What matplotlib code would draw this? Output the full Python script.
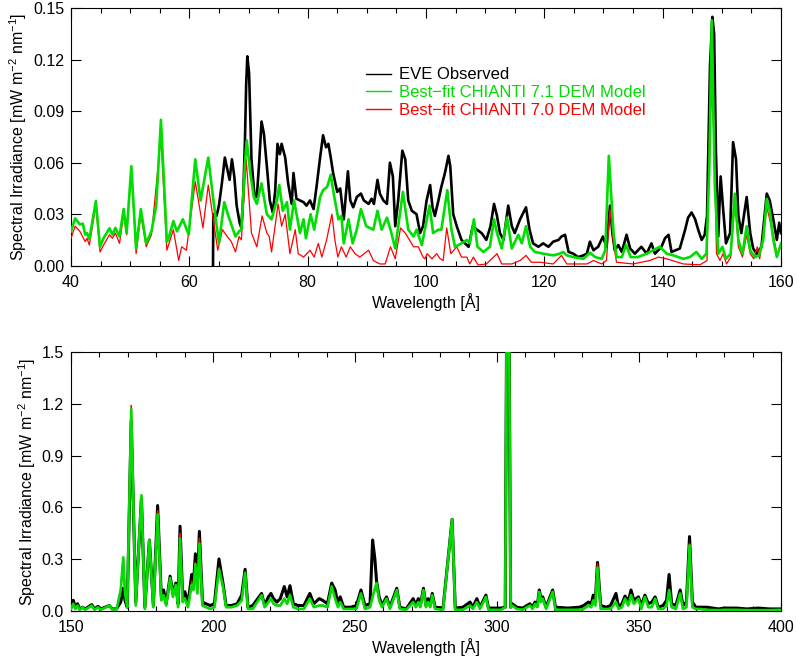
"""EVE observed vs. best-fit CHIANTI DEM models, 40-160 A and 150-400 A."""
import matplotlib
matplotlib.use("Agg")
import matplotlib.pyplot as plt
from matplotlib.lines import Line2D
from matplotlib.ticker import MultipleLocator, FormatStrFormatter

# ---- top panel (40-160 A): vertices ----
eve_top_wl = [64.0, 64.05, 64.6, 65.0, 65.5, 66.0, 66.5, 66.8, 67.2, 67.6, 68.0, 68.5, 68.8, 69.1, 69.4,
              69.6, 69.8, 70.1, 70.5, 71.0, 71.4, 71.8, 72.2, 72.6, 73.1, 73.6, 74.1, 74.5, 74.9, 75.3,
              75.6, 76.2, 76.7, 77.3, 77.6, 78.1, 78.7, 79.3, 79.8, 80.4, 81.0, 81.5, 82.1, 82.6, 83.1,
              83.5, 83.9, 84.3, 85.0, 85.5, 86.1, 86.8, 87.2, 87.7, 88.3, 89.0, 89.5, 90.3, 90.8, 91.2,
              91.8, 92.2, 92.8, 93.4, 93.9, 94.4, 94.8, 95.3, 96.0, 96.5, 97.0, 97.6, 98.4, 99.0, 99.5,
              100.1, 100.7, 101.1, 101.5, 102.1, 102.6, 103.2, 103.8, 104.1, 104.6, 105.2, 106.0, 107.2,
              107.9, 108.6, 109.4, 110.2, 110.9, 111.5, 112.0, 112.5, 113.1, 113.9, 114.5, 115.0, 115.9,
              116.9, 117.5, 118.1, 119.0, 119.8, 120.7, 121.5, 122.4, 122.9, 123.5, 124.1, 124.9, 125.7,
              126.6, 127.2, 127.7, 128.3, 129.1, 129.9, 130.5, 131.1, 131.5, 131.9, 132.5, 133.1, 133.9,
              134.5, 135.3, 136.4, 137.3, 138.1, 138.7, 139.8, 140.4, 141.0, 141.5, 142.9, 143.8, 144.3,
              144.9, 145.5, 146.0, 146.6, 147.1, 147.5, 148.0, 148.4, 148.7, 149.0, 149.4, 149.8, 150.2,
              150.7, 151.4, 151.9, 152.4, 152.8, 153.3, 154.2, 154.8, 155.3, 155.9, 156.7, 157.6, 158.1,
              158.7, 159.3, 159.7, 160.0]
eve_top = [0.0, 0.030, 0.029, 0.035, 0.048, 0.063, 0.055, 0.050, 0.062, 0.052, 0.035, 0.025, 0.022, 0.040, 0.073,
           0.105, 0.122, 0.112, 0.062, 0.041, 0.040, 0.060, 0.084, 0.077, 0.058, 0.038, 0.031, 0.043, 0.071, 0.065,
           0.071, 0.063, 0.048, 0.036, 0.054, 0.039, 0.038, 0.037, 0.035, 0.038, 0.033, 0.046, 0.063, 0.076, 0.069,
           0.071, 0.063, 0.054, 0.043, 0.045, 0.027, 0.055, 0.038, 0.034, 0.040, 0.042, 0.038, 0.036, 0.039, 0.036,
           0.050, 0.042, 0.038, 0.036, 0.060, 0.052, 0.023, 0.038, 0.067, 0.062, 0.038, 0.032, 0.030, 0.019, 0.023,
           0.038, 0.047, 0.034, 0.029, 0.038, 0.046, 0.054, 0.064, 0.058, 0.030, 0.023, 0.015, 0.011,
           0.023, 0.021, 0.019, 0.015, 0.023, 0.036, 0.029, 0.019, 0.015, 0.035, 0.023, 0.019, 0.027,
           0.034, 0.021, 0.013, 0.011, 0.013, 0.011, 0.014, 0.015, 0.017, 0.018, 0.008, 0.007, 0.005,
           0.006, 0.007, 0.014, 0.009, 0.011, 0.017, 0.011, 0.035, 0.019, 0.009, 0.012, 0.008, 0.018,
           0.010, 0.007, 0.011, 0.007, 0.013, 0.007, 0.011, 0.016, 0.018, 0.008, 0.010, 0.021, 0.028,
           0.031, 0.027, 0.021, 0.015, 0.018, 0.029, 0.116, 0.145, 0.135, 0.067, 0.017, 0.052, 0.034,
           0.013, 0.019, 0.072, 0.062, 0.029, 0.019, 0.040, 0.019, 0.010, 0.007, 0.011, 0.042, 0.038,
           0.027, 0.015, 0.025, 0.019]

v71_top_wl = [40.0, 40.7, 41.5, 42.0, 42.4, 42.7, 43.1, 44.2, 44.9, 45.5, 46.5, 47.0, 47.5, 48.2, 48.9,
              49.4, 50.2, 51.0, 51.8, 52.7, 53.6, 54.4, 55.2, 56.2, 56.5, 57.3, 57.9, 58.9, 59.9, 61.0,
              61.9, 63.2, 64.0, 65.0, 65.9, 66.5, 67.0, 67.8, 68.4, 68.8, 69.4, 69.7, 70.3, 70.9, 71.4,
              72.2, 73.1, 73.9, 74.8, 75.2, 75.8, 76.5, 77.0, 77.7, 78.7, 79.3, 79.7, 80.5, 81.1, 82.1,
              82.6, 83.3, 83.9, 84.4, 85.2, 85.7, 86.1, 86.9, 87.6, 88.3, 89.0, 89.9, 91.1, 91.8, 92.5,
              93.4, 94.0, 94.8, 96.1, 97.0, 97.9, 98.4, 99.3, 100.6, 101.2, 102.1, 102.6, 103.6, 104.3,
              104.9, 106.0, 106.9, 107.4, 108.1, 108.7, 109.7, 110.8, 111.5, 112.0, 112.8, 113.7, 114.5,
              115.6, 116.2, 116.9, 117.6, 118.4, 119.8, 121.5, 122.6, 123.2, 123.8, 124.9, 126.6, 127.7,
              128.6, 129.7, 130.3, 130.9, 131.7, 132.2, 133.1, 133.8, 134.6, 135.8, 137.3, 138.4, 139.5,
              140.7, 141.8, 143.5, 144.6, 145.7, 146.6, 147.4, 147.9, 148.3, 148.8, 149.4, 150.1, 150.7,
              151.5, 152.2, 152.8, 153.5, 154.2, 154.8, 155.6, 156.3, 157.0, 157.6, 158.1, 158.7, 159.3,
              160.0]
v71_top = [0.020, 0.0276, 0.024, 0.0245, 0.018, 0.019, 0.0155, 0.0377, 0.011, 0.016, 0.0218, 0.018, 0.022, 0.017, 0.033,
           0.019, 0.058, 0.010, 0.033, 0.013, 0.020, 0.035, 0.085, 0.014, 0.016, 0.026, 0.020, 0.027, 0.018, 0.062,
           0.038, 0.063, 0.040, 0.013, 0.037, 0.030, 0.025, 0.017, 0.020, 0.021, 0.060, 0.073, 0.054, 0.040, 0.036,
           0.048, 0.030, 0.027, 0.038, 0.047, 0.032, 0.037, 0.021, 0.038, 0.019, 0.027, 0.016, 0.030, 0.021, 0.040,
           0.044, 0.046, 0.053, 0.042, 0.027, 0.029, 0.013, 0.027, 0.013, 0.021, 0.033, 0.023, 0.021, 0.032, 0.021,
           0.028, 0.021, 0.010, 0.043, 0.021, 0.017, 0.021, 0.012, 0.035, 0.019, 0.021, 0.021, 0.044, 0.021,
           0.011, 0.013, 0.015, 0.013, 0.027, 0.011, 0.008, 0.011, 0.027, 0.019, 0.010, 0.028, 0.010,
           0.018, 0.013, 0.023, 0.011, 0.008, 0.007, 0.006, 0.007, 0.008, 0.006, 0.005, 0.004, 0.0076,
           0.005, 0.004, 0.009, 0.064, 0.019, 0.005, 0.005, 0.012, 0.005, 0.005, 0.007, 0.009, 0.011,
           0.007, 0.006, 0.004, 0.005, 0.008, 0.004, 0.007, 0.058, 0.143, 0.048, 0.007, 0.011, 0.004,
           0.007, 0.042, 0.015, 0.007, 0.023, 0.009, 0.005, 0.006, 0.015, 0.039, 0.032, 0.015, 0.005,
           0.013]

v70_top_wl = [40.0, 40.7, 41.5, 42.4, 42.7, 43.1, 44.2, 44.9, 45.5, 46.5, 47.0, 47.5, 48.2, 48.9, 49.4,
              50.2, 51.0, 51.8, 52.7, 53.6, 55.2, 56.2, 57.3, 58.2, 58.7, 59.5, 61.0, 62.3, 63.2, 64.8,
              65.6, 66.4, 67.1, 67.8, 68.4, 68.8, 69.6, 70.5, 71.4, 72.3, 73.1, 73.5, 73.9, 75.0, 75.6,
              76.2, 77.0, 77.9, 78.4, 79.3, 80.4, 81.1, 81.8, 82.4, 83.2, 84.1, 84.6, 85.1, 85.7, 86.5,
              87.2, 88.0, 88.8, 90.3, 91.1, 92.2, 93.1, 94.0, 94.8, 95.7, 96.5, 97.9, 98.7, 99.5, 99.8,
              100.2, 101.0, 101.8, 102.4, 102.9, 103.5, 104.2, 105.2, 106.0, 106.9, 107.4, 108.0, 108.8,
              110.2, 112.0, 112.8, 114.5, 115.9, 116.9, 117.8, 119.3, 121.5, 122.9, 123.8, 127.2, 128.3,
              129.7, 130.5, 131.1, 131.7, 132.2, 135.0, 137.8, 139.3, 140.7, 143.5, 146.3, 147.5, 147.9,
              148.3, 148.7, 149.1, 149.7, 150.2, 150.8, 151.5, 152.2, 152.8, 153.5, 154.2, 154.8, 155.4,
              156.0, 156.4, 157.6, 158.1, 158.7, 159.3, 160.0]
v70_top = [0.016, 0.023, 0.020, 0.014, 0.016, 0.012, 0.035, 0.008, 0.012, 0.018, 0.016, 0.019, 0.013, 0.030, 0.018,
           0.056, 0.007, 0.030, 0.011, 0.018, 0.075, 0.009, 0.021, 0.003, 0.011, 0.009, 0.049, 0.022, 0.047, 0.009,
           0.021, 0.017, 0.014, 0.008, 0.017, 0.015, 0.062, 0.019, 0.011, 0.029, 0.019, 0.017, 0.008, 0.036, 0.023,
           0.030, 0.007, 0.021, 0.007, 0.005, 0.009, 0.005, 0.013, 0.005, 0.015, 0.030, 0.015, 0.005, 0.011, 0.005,
           0.011, 0.007, 0.005, 0.009, 0.003, 0.001, 0.001, 0.011, 0.004, 0.022, 0.019, 0.011, 0.011, 0.005, 0.004,
           0.007, 0.004, 0.007, 0.004, 0.003, 0.022, 0.007, 0.011, 0.005, 0.005, 0.001, 0.005, 0.0004,
           0.001, 0.007, 0.001, 0.001, 0.003, 0.006, 0.002, 0.002, 0.001, 0.006, 0.001, 0.001, 0.003,
           0.001, 0.003, 0.033, 0.013, 0.002, 0.001, 0.003, 0.005, 0.004, 0.001, 0.0005, 0.003, 0.077,
           0.102, 0.073, 0.007, 0.003, 0.007, 0.001, 0.005, 0.038, 0.011, 0.005, 0.018, 0.007, 0.004,
           0.011, 0.004, 0.034, 0.027, 0.018, 0.007, 0.011]

# ---- bottom panel (150-400 A): shared vertex wavelengths ----
bot_wl = [150.0, 150.8, 151.5, 152.3, 153.0, 154.0, 155.0, 157.3, 158.3, 159.5, 160.5, 163.5, 164.5, 166.0,
          167.5, 168.4, 169.0, 169.8, 171.2, 172.8, 174.8, 176.0, 177.6, 179.0, 180.5, 181.8, 182.6, 183.5,
          184.9, 185.9, 186.9, 187.7, 188.4, 189.3, 190.1, 191.2, 192.5, 193.1, 193.8, 194.5, 195.2, 196.3,
          197.5, 199.0, 200.5, 202.1, 203.5, 204.6, 206.5, 208.5, 210.1, 211.3, 212.3, 214.0, 217.1, 218.2,
          219.5, 220.4, 221.3, 222.5, 223.7, 225.1, 226.1, 227.1, 228.3, 230.0, 232.0, 234.1, 235.5, 237.4,
          238.6, 240.3, 241.8, 243.0, 244.0, 244.8, 246.0, 248.5, 250.5, 252.1, 253.5, 255.3, 256.2, 257.0,
          257.6, 258.5, 259.5, 261.1, 262.3, 264.7, 265.8, 268.0, 270.5, 271.4, 272.3, 273.0, 274.1, 275.0,
          275.8, 276.5, 277.2, 278.2, 281.0, 284.2, 285.3, 288.0, 290.5, 291.5, 292.9, 294.0, 296.1, 297.0,
          301.5, 302.9, 303.8, 304.8, 305.3, 307.0, 309.0, 311.6, 312.5, 313.4, 314.2, 314.9, 315.5, 316.1,
          317.3, 319.6, 320.6, 325.0, 329.0, 330.5, 332.2, 333.2, 333.9, 334.6, 335.4, 336.5, 338.5, 340.0,
          341.9, 342.8, 344.0, 345.1, 346.2, 347.2, 348.2, 349.8, 350.8, 352.1, 353.3, 354.5, 355.7, 356.8,
          358.5, 359.7, 360.6, 361.5, 363.0, 364.5, 365.5, 366.7, 367.8, 368.8, 370.0, 371.5, 373.9, 378.0,
          380.0, 384.4, 388.0, 392.0, 396.0, 400.0]
eve_bot = [0.03, 0.06, 0.02, 0.04, 0.01, 0.02, 0.01, 0.035, 0.01, 0.025, 0.01, 0.03, 0.01, 0.01,
           0.05, 0.13, 0.06, 0.02, 1.10, 0.05, 0.65, 0.02, 0.41, 0.03, 0.61, 0.08, 0.12, 0.04,
           0.20, 0.10, 0.16, 0.04, 0.49, 0.08, 0.11, 0.04, 0.21, 0.15, 0.33, 0.14, 0.46, 0.05,
           0.04, 0.03, 0.04, 0.30, 0.16, 0.03, 0.03, 0.04, 0.09, 0.24, 0.02, 0.03, 0.10, 0.03,
           0.08, 0.10, 0.07, 0.05, 0.07, 0.14, 0.08, 0.145, 0.04, 0.03, 0.03, 0.10, 0.04, 0.07,
           0.06, 0.04, 0.16, 0.12, 0.04, 0.08, 0.02, 0.02, 0.03, 0.12, 0.03, 0.04, 0.41, 0.30,
           0.17, 0.08, 0.03, 0.08, 0.02, 0.13, 0.02, 0.01, 0.07, 0.03, 0.07, 0.03, 0.13, 0.03,
           0.07, 0.03, 0.10, 0.02, 0.015, 0.53, 0.015, 0.02, 0.05, 0.02, 0.07, 0.02, 0.09, 0.015,
           0.015, 0.02, 3.0, 0.02, 0.04, 0.02, 0.015, 0.04, 0.02, 0.05, 0.03, 0.12, 0.07, 0.08,
           0.02, 0.12, 0.02, 0.015, 0.02, 0.03, 0.05, 0.04, 0.09, 0.05, 0.28, 0.03, 0.02, 0.03,
           0.10, 0.02, 0.04, 0.085, 0.05, 0.12, 0.06, 0.08, 0.03, 0.09, 0.04, 0.05, 0.08, 0.02,
           0.03, 0.06, 0.21, 0.04, 0.03, 0.12, 0.03, 0.05, 0.43, 0.05, 0.02, 0.02, 0.02, 0.01,
           0.015, 0.015, 0.01, 0.015, 0.01, 0.01]
v71_bot = [0.01, 0.04, 0.01, 0.03, 0.005, 0.02, 0.005, 0.03, 0.005, 0.02, 0.005, 0.03, 0.008, 0.005,
           0.12, 0.31, 0.10, 0.02, 1.17, 0.03, 0.67, 0.01, 0.41, 0.02, 0.56, 0.06, 0.09, 0.03,
           0.19, 0.08, 0.15, 0.02, 0.42, 0.05, 0.07, 0.02, 0.15, 0.12, 0.27, 0.10, 0.39, 0.03,
           0.02, 0.01, 0.02, 0.24, 0.14, 0.02, 0.02, 0.03, 0.06, 0.22, 0.01, 0.01, 0.09, 0.02,
           0.05, 0.07, 0.04, 0.03, 0.03, 0.07, 0.04, 0.09, 0.02, 0.01, 0.01, 0.07, 0.02, 0.03,
           0.03, 0.02, 0.14, 0.07, 0.02, 0.05, 0.01, 0.01, 0.01, 0.10, 0.01, 0.02, 0.08, 0.13,
           0.16, 0.06, 0.02, 0.07, 0.01, 0.12, 0.01, 0.005, 0.05, 0.02, 0.05, 0.02, 0.12, 0.02,
           0.05, 0.02, 0.09, 0.01, 0.005, 0.53, 0.005, 0.005, 0.03, 0.01, 0.05, 0.01, 0.08, 0.005,
           0.005, 0.02, 3.0, 0.02, 0.03, 0.01, 0.005, 0.03, 0.01, 0.04, 0.02, 0.11, 0.05, 0.07,
           0.01, 0.11, 0.005, 0.005, 0.005, 0.01, 0.03, 0.02, 0.06, 0.03, 0.25, 0.01, 0.01, 0.01,
           0.05, 0.01, 0.02, 0.07, 0.03, 0.09, 0.04, 0.07, 0.01, 0.08, 0.02, 0.02, 0.07, 0.01,
           0.01, 0.03, 0.12, 0.02, 0.01, 0.10, 0.01, 0.02, 0.38, 0.02, 0.01, 0.01, 0.005, 0.003,
           0.005, 0.005, 0.003, 0.003, 0.003, 0.005]
v70_bot = [0.01, 0.04, 0.01, 0.03, 0.005, 0.02, 0.005, 0.03, 0.005, 0.02, 0.005, 0.03, 0.008, 0.005,
           0.12, 0.30, 0.10, 0.02, 1.19, 0.03, 0.66, 0.01, 0.41, 0.02, 0.58, 0.06, 0.09, 0.03,
           0.19, 0.08, 0.15, 0.02, 0.45, 0.05, 0.07, 0.02, 0.17, 0.12, 0.28, 0.10, 0.42, 0.03,
           0.02, 0.01, 0.02, 0.25, 0.14, 0.02, 0.02, 0.03, 0.06, 0.22, 0.01, 0.01, 0.09, 0.02,
           0.05, 0.07, 0.04, 0.03, 0.03, 0.07, 0.04, 0.09, 0.02, 0.01, 0.01, 0.07, 0.02, 0.03,
           0.03, 0.02, 0.14, 0.07, 0.02, 0.05, 0.01, 0.01, 0.01, 0.10, 0.01, 0.02, 0.08, 0.12,
           0.14, 0.06, 0.02, 0.07, 0.01, 0.12, 0.01, 0.005, 0.05, 0.02, 0.05, 0.02, 0.12, 0.02,
           0.05, 0.02, 0.09, 0.01, 0.005, 0.53, 0.005, 0.005, 0.03, 0.01, 0.05, 0.01, 0.08, 0.005,
           0.005, 0.02, 3.0, 0.02, 0.03, 0.01, 0.005, 0.03, 0.01, 0.04, 0.02, 0.11, 0.05, 0.07,
           0.01, 0.11, 0.005, 0.005, 0.005, 0.01, 0.03, 0.02, 0.06, 0.03, 0.27, 0.01, 0.01, 0.01,
           0.05, 0.01, 0.02, 0.07, 0.03, 0.09, 0.04, 0.07, 0.01, 0.08, 0.02, 0.02, 0.07, 0.01,
           0.01, 0.03, 0.12, 0.02, 0.01, 0.10, 0.01, 0.02, 0.39, 0.02, 0.01, 0.01, 0.005, 0.003,
           0.005, 0.005, 0.003, 0.003, 0.003, 0.005]

labels = ["EVE Observed", "Best\u2212fit CHIANTI 7.1 DEM Model", "Best\u2212fit CHIANTI 7.0 DEM Model"]
GREEN = "#00dd00"
RED = "#ff0000"

plt.rcParams["font.family"] = ["Liberation Sans", "DejaVu Sans"]
plt.rcParams["mathtext.fontset"] = "custom"
plt.rcParams["mathtext.rm"] = "Liberation Sans"
FS = 11.5

fig = plt.figure(figsize=(7.97, 6.56), dpi=100)
ax1 = fig.add_axes([0.0891, 0.595, 0.8908, 0.3924])
ax2 = fig.add_axes([0.0891, 0.0691, 0.8908, 0.394])

ax1.plot(eve_top_wl, eve_top, color="k", lw=1.9, zorder=2)
ax1.plot(v70_top_wl, v70_top, color=RED, lw=0.9, zorder=3)
ax1.plot(v71_top_wl, v71_top, color=GREEN, lw=1.9, zorder=4)

ax2.plot(bot_wl, eve_bot, color="k", lw=2.2, zorder=2)
ax2.plot(bot_wl, v70_bot, color=RED, lw=1.2, zorder=3)
ax2.plot(bot_wl, v71_bot, color=GREEN, lw=1.9, zorder=4)

ylab = "Spectral Irradiance [mW m$^{-2}$ nm$^{-1}$]"
for ax, xlim, ylim, xmaj, xmin, ymaj, yfmt in [
        (ax1, (40, 160), (0, 0.15), 20, 5, 0.03, "%.2f"),
        (ax2, (150, 400), (0, 1.5), 50, 10, 0.3, "%.1f")]:
    ax.set_xlim(*xlim)
    ax.set_ylim(*ylim)
    ax.xaxis.set_major_locator(MultipleLocator(xmaj))
    ax.xaxis.set_minor_locator(MultipleLocator(xmin))
    ax.yaxis.set_major_locator(MultipleLocator(ymaj))
    ax.yaxis.set_major_formatter(FormatStrFormatter(yfmt))
    ax.tick_params(which="both", direction="in", top=True, right=True, width=0.8, labelsize=FS)
    ax.tick_params(which="major", length=7, pad=5)
    ax.tick_params(axis="x", which="major", pad=7)
    ax.tick_params(which="minor", length=3.5)
    ax.set_xlabel("Wavelength [\u00c5]", fontsize=FS, labelpad=2)
    ax.set_ylabel(ylab, fontsize=FS, labelpad=3)
    for s in ax.spines.values():
        s.set_linewidth(0.8)

handles = [Line2D([], [], color="k", lw=1), Line2D([], [], color=GREEN, lw=1), Line2D([], [], color=RED, lw=1)]
ax1.legend(handles, labels, loc="upper left", bbox_to_anchor=(0.415, 0.77), frameon=False,
           handlelength=1.5, handletextpad=0.5, labelspacing=0.16, borderpad=0, borderaxespad=0,
           labelcolor=["k", GREEN, RED], fontsize=12)

fig.savefig("out.png", dpi=100)
